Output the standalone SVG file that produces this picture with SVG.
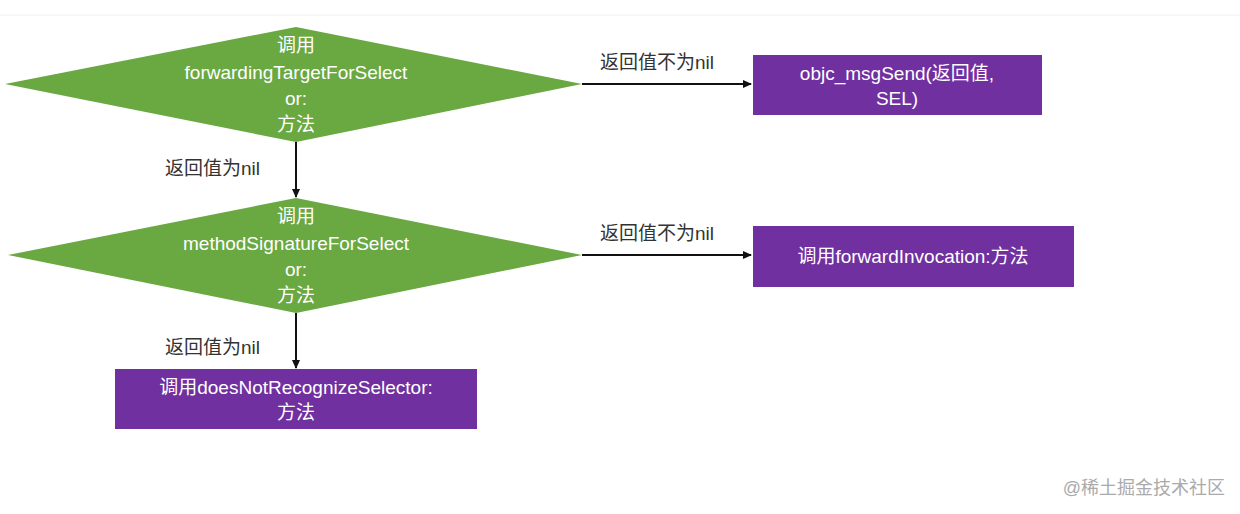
<svg xmlns="http://www.w3.org/2000/svg" width="1240" height="514" viewBox="0 0 1240 514">
<defs>
<style>
.d{fill:#6aa842}
.b{fill:#7030a0}
.w{fill:#fff;font-family:"Liberation Sans","Noto Sans CJK SC",sans-serif;font-size:19px;text-anchor:middle}
.l{fill:#333;font-family:"Liberation Sans","Noto Sans CJK SC",sans-serif;font-size:19px}
.c{stroke:#111;stroke-width:2;fill:none;marker-end:url(#a)}
</style>
<marker id="a" markerWidth="10" markerHeight="10" refX="8" refY="5" orient="auto" markerUnits="userSpaceOnUse"><path d="M0,1 L9,5 L0,9 Z" fill="#111"/></marker>
</defs>
<rect width="1240" height="514" fill="#fff"/>
<line x1="0" y1="15" x2="1240" y2="15" stroke="#eee"/>
<g id="connectors">
<path class="c" d="M582,84 H751"/>
<path class="c" d="M296,142 V197"/>
<path class="c" d="M582,255 H751"/>
<path class="c" d="M296,313 V368"/>
<text class="l" x="600" y="69">返回值不为nil</text>
<text class="l" x="165" y="175">返回值为nil</text>
<text class="l" x="600" y="240">返回值不为nil</text>
<text class="l" x="165" y="354">返回值为nil</text>
</g>
<g id="d1"><polygon class="d" points="5,84 296,27 582,84 296,142"/>
<text class="w" x="296" y="52">调用</text><text class="w" x="296" y="79">forwardingTargetForSelect</text><text class="w" x="296" y="105">or:</text><text class="w" x="296" y="131">方法</text></g>
<g id="d2"><polygon class="d" points="8,255 296,198 582,255 296,313"/>
<text class="w" x="296" y="223">调用</text><text class="w" x="296" y="250">methodSignatureForSelect</text><text class="w" x="296" y="276">or:</text><text class="w" x="296" y="302">方法</text></g>
<g id="b1"><rect class="b" x="753" y="55" width="289" height="60"/>
<text class="w" x="897" y="80">objc_msgSend(返回值,</text><text class="w" x="897" y="105">SEL)</text></g>
<g id="b2"><rect class="b" x="753" y="226" width="321" height="61"/>
<text class="w" x="913" y="263">调用forwardInvocation:方法</text></g>
<g id="b3"><rect class="b" x="115" y="369" width="362" height="60"/>
<text class="w" x="296" y="394">调用doesNotRecognizeSelector:</text><text class="w" x="296" y="419">方法</text></g>
<text x="1225" y="494" text-anchor="end" fill="#aaa" font-family="Liberation Sans,Noto Sans CJK SC,sans-serif" font-size="18">@稀土掘金技术社区</text>
</svg>
